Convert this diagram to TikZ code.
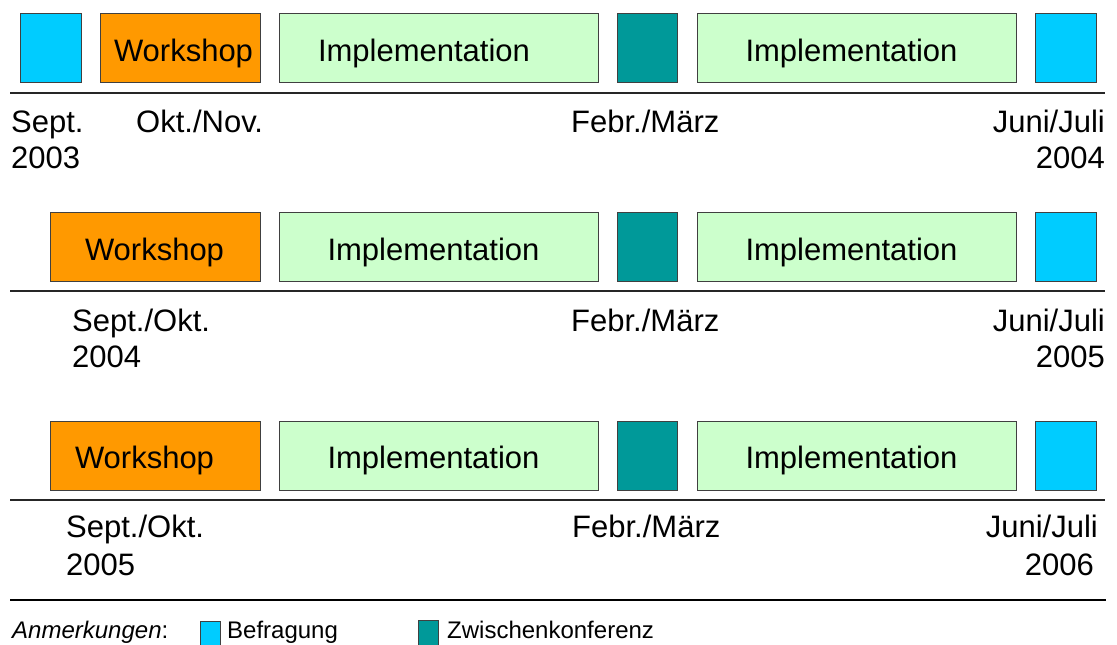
\documentclass[tikz,border=0pt]{standalone}
\usepackage{fontspec}
\setmainfont{Liberation Sans}
\usepackage{tikz}

\definecolor{befr}{HTML}{00CCFF}
\definecolor{work}{HTML}{FF9900}
\definecolor{impl}{HTML}{CCFFCC}
\definecolor{konf}{HTML}{009999}

\begin{document}
\begin{tikzpicture}[x=1pt, y=-1pt,
	box/.style={draw=black!75, line width=0.9pt, inner sep=0pt, minimum height=69pt},
	lab/.style={inner sep=0pt, font=\fontsize{31}{36}\selectfont},
	leg/.style={inner sep=0pt, font=\fontsize{24}{28}\selectfont},
	rule/.style={draw=black!85, line width=1.4pt}]
	\useasboundingbox (0,0) rectangle (1117,645);
	\def \ra{ 47.5 };
	\def \rb{ 246.5 };
	\def \rc{ 455.5 };
	\def \ta{ 61 };
	\def \tb{ 260 };
	\def \tc{ 468 };

	% 2003/2004
	\node[box, fill=befr, minimum width=61pt] (a1) at (50.5,\ra) {};
	\node[box, fill=work, minimum width=160pt] (a2) at (180,\ra) {};
	\node[box, fill=impl, minimum width=319pt] (a3) at (438.5,\ra) {};
	\node[box, fill=konf, minimum width=60pt] (a4) at (647.5,\ra) {};
	\node[box, fill=impl, minimum width=319pt] (a5) at (856.5,\ra) {};
	\node[box, fill=befr, minimum width=61pt] (a6) at (1065.5,\ra) {};
	\node[lab, anchor=base] (wa) at (183.5,\ta) {Workshop};
	\node[lab, anchor=base] (ia) at (424,\ta) {Implementation};
	\node[lab, anchor=base] (ja) at (851.5,\ta) {Implementation};
	\coordinate (la) at (10,93);
	\coordinate (ra) at (1105,93);
	\draw[rule] (la) -- (ra);
	\node[lab, anchor=base west] (da1) at (11,132) {Sept.};
	\node[lab, anchor=base west] (da2) at (11,168) {2003};
	\node[lab, anchor=base west] (da3) at (136,132) {Okt./Nov.};
	\node[lab, anchor=base west] (da4) at (571,132) {Febr./März};
	\node[lab, anchor=base east] (da5) at (1105,132) {Juni/Juli};
	\node[lab, anchor=base east] (da6) at (1105,168) {2004};

	% 2004/2005
	\node[box, fill=work, minimum width=210pt] (b2) at (155,\rb) {};
	\node[box, fill=impl, minimum width=319pt] (b3) at (438.5,\rb) {};
	\node[box, fill=konf, minimum width=60pt] (b4) at (647.5,\rb) {};
	\node[box, fill=impl, minimum width=319pt] (b5) at (856.5,\rb) {};
	\node[box, fill=befr, minimum width=61pt] (b6) at (1065.5,\rb) {};
	\node[lab, anchor=base] (wb) at (154.5,\tb) {Workshop};
	\node[lab, anchor=base] (ib) at (433.5,\tb) {Implementation};
	\node[lab, anchor=base] (jb) at (851.5,\tb) {Implementation};
	\coordinate (lb) at (10,291);
	\coordinate (rb) at (1105,291);
	\draw[rule] (lb) -- (rb);
	\node[lab, anchor=base west] (db1) at (72,331) {Sept./Okt.};
	\node[lab, anchor=base west] (db2) at (72,367) {2004};
	\node[lab, anchor=base west] (db4) at (571,331) {Febr./März};
	\node[lab, anchor=base east] (db5) at (1105,331) {Juni/Juli};
	\node[lab, anchor=base east] (db6) at (1105,367) {2005};

	% 2005/2006
	\node[box, fill=work, minimum width=210pt] (c2) at (155,\rc) {};
	\node[box, fill=impl, minimum width=319pt] (c3) at (438.5,\rc) {};
	\node[box, fill=konf, minimum width=60pt] (c4) at (647.5,\rc) {};
	\node[box, fill=impl, minimum width=319pt] (c5) at (856.5,\rc) {};
	\node[box, fill=befr, minimum width=61pt] (c6) at (1065.5,\rc) {};
	\node[lab, anchor=base] (wc) at (144.5,\tc) {Workshop};
	\node[lab, anchor=base] (ic) at (433.5,\tc) {Implementation};
	\node[lab, anchor=base] (jc) at (851.5,\tc) {Implementation};
	\coordinate (lc) at (10,500);
	\coordinate (rc) at (1105,500);
	\draw[rule] (lc) -- (rc);
	\node[lab, anchor=base west] (dc1) at (66,537) {Sept./Okt.};
	\node[lab, anchor=base west] (dc2) at (66,575) {2005};
	\node[lab, anchor=base west] (dc4) at (572,537) {Febr./März};
	\node[lab, anchor=base east] (dc5) at (1098,537) {Juni/Juli};
	\node[lab, anchor=base east] (dc6) at (1094,575) {2006};

	% Legende
	\coordinate (ld) at (10,600);
	\coordinate (rd) at (1106,600);
	\draw[line width=2.6pt] (ld) -- (rd);
	\node[leg, anchor=base west] (anm) at (12,638) {\textit{Anmerkungen}:};
	\node[box, fill=befr, minimum width=20pt, minimum height=28pt, anchor=north west] (lbef) at (200,621) {};
	\node[leg, anchor=base west] (tbef) at (227,638) {Befragung};
	\node[box, fill=konf, minimum width=20pt, minimum height=28pt, anchor=north west] (lkon) at (418,620) {};
	\node[leg, anchor=base west] (tkon) at (447,638) {Zwischenkonferenz};
\end{tikzpicture}
\end{document}
